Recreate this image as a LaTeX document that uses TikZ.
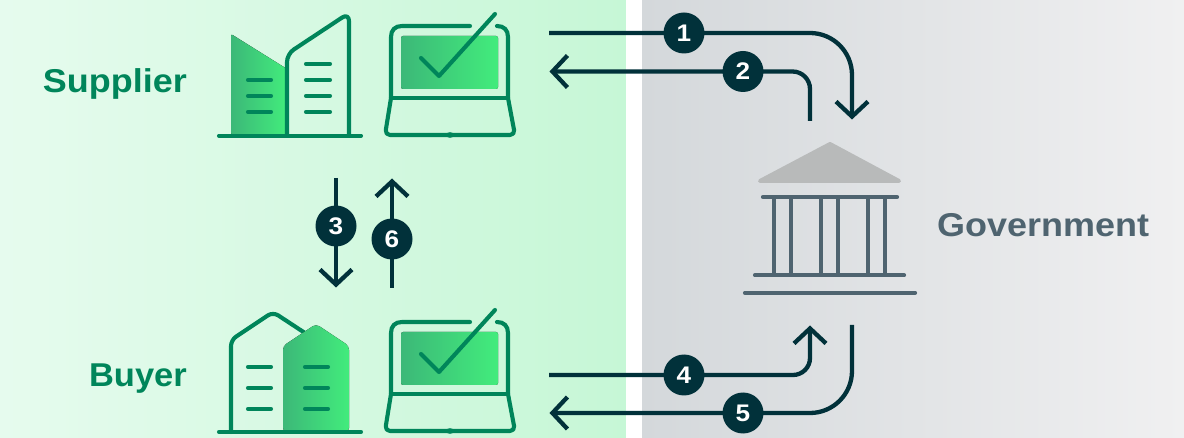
\documentclass[tikz,border=0pt]{standalone}
\usepackage{fontspec}
\setmainfont{Liberation Sans}
\newfontfamily\wideface[FakeStretch=1.09]{Liberation Sans}
\newfontfamily\midface[FakeStretch=1.045]{Liberation Sans}
\usetikzlibrary{arrows.meta}
\definecolor{grn}{HTML}{00855A}
\definecolor{dk}{HTML}{01313A}
\definecolor{slate}{HTML}{4F6470}
\definecolor{fillL}{HTML}{3CB878}
\definecolor{fillR}{HTML}{42EC7C}
\definecolor{E6}{HTML}{E6FBEE}
\definecolor{C6}{HTML}{C6F7D6}
\definecolor{G1}{HTML}{D4D8DB}
\definecolor{G2}{HTML}{F0F0F1}
\definecolor{RF}{HTML}{B8BABA}
\tikzset{
  x=1pt,y=-1pt,
  icon/.style={draw=grn,line width=4.1pt,line cap=round,line join=round},
  gov/.style={draw=slate,line width=4.2pt,line cap=round},
  conn/.style={draw=dk,line width=4.3pt},
  tipped/.style={conn,-{Straight Barb[length=15pt,width=32pt,line width=4.3pt]}},
  badge/.style={circle,fill=dk,text=white,minimum size=41pt,inner sep=0pt,font=\fontsize{24}{24}\selectfont\bfseries\wideface},
  actor/.style={font=\fontsize{33}{33}\selectfont\bfseries\wideface,anchor=base east,inner sep=0pt},
  gradfill/.style={left color=fillL,right color=fillR,draw=none},
}
\newcommand{\laptop}{%
  \fill[gradfill,rounded corners=2pt] (401,36) rectangle (498,89);
  \draw[icon] (470,26) -- (402,26) .. controls (395,26) and (391,30) .. (391,37) -- (391,98);
  \draw[icon] (497,26) .. controls (504,26) and (508,30) .. (508,37) -- (508,98);
  \draw[icon] (391,98) -- (508,98);
  \draw[icon,rounded corners=5pt] (391,98) -- (385,135) -- (515,135) -- (508,98);
  \draw[icon] (421,58) -- (439,76) -- (495,14);
  \fill[grn] (450,135) ellipse (4pt and 2.8pt);
}
\begin{document}
\begin{tikzpicture}
\useasboundingbox (0,0) rectangle (1184,438);
% backgrounds
\fill[left color=E6,right color=C6] (0,0) rectangle (626,438);
\fill[white] (626,0) rectangle (642,438);
\fill[left color=G1,right color=G2] (642,0) rectangle (1184,438);
% supplier buildings
\fill[gradfill,rounded corners=2pt] (231,135) -- (231,34) -- (287,69) -- (287,135) -- cycle;
\draw[icon,rounded corners=8pt] (287,135) -- (287,54) -- (349,13) -- (349,135);
\foreach \y in {64,80,96,112} \draw[icon] (306,\y) -- (330,\y);
\foreach \y in {80,96,112} \draw[icon] (248,\y) -- (271,\y);
\draw[icon] (219,135.7) -- (361,135.7);
\laptop
% buyer buildings
\draw[icon,rounded corners=6pt] (231,432) -- (231,340) -- (273,312) -- (305,333);
\fill[gradfill,rounded corners=4pt] (283,432) -- (283,346) -- (316,324) -- (349,346) -- (349,432) -- cycle;
\foreach \y in {367,388,409} {\draw[icon] (248,\y) -- (271,\y); \draw[icon] (305,\y) -- (328,\y);}
\draw[icon] (219,432) -- (361,432);
\begin{scope}[yshift=-296pt]\laptop\end{scope}
% government
\fill[fill=RF,draw=RF,line width=4pt,line join=round] (830,144) -- (760,181) -- (899,181) -- cycle;
\draw[gov] (763,197) -- (897,197);
\foreach \x in {773.7,791.3,820.7,838.3,867.7,885.3} \draw[gov,line cap=butt] (\x,197) -- (\x,275);
\draw[gov] (755,275.3) -- (904,275.3);
\draw[gov] (745,292.7) -- (915,292.7);
% labels
\node[actor,text=grn] (supplier) at (187,93) {Supplier};
\node[actor,text=grn,font=\fontsize{33}{33}\selectfont\bfseries\midface] (buyer) at (187,387) {Buyer};
\node[actor,text=slate,anchor=base west] (government) at (937,237) {Government};
% connector ends
\coordinate (a1) at (549,33); \coordinate (b1) at (852,119.5);
\coordinate (a2) at (810,121); \coordinate (b2) at (549.5,71.5);
\coordinate (a3) at (336,178); \coordinate (b3) at (336,287.5);
\coordinate (a6) at (392,288); \coordinate (b6) at (392,178.5);
\coordinate (a4) at (549,375); \coordinate (b4) at (810,325.5);
\coordinate (a5) at (852,325); \coordinate (b5) at (549.5,413);
\draw[tipped] (a1) -- (810,33) arc[start angle=-90,end angle=0,radius=42] -- (b1);
\draw[tipped] (a2) -- (810,89) arc[start angle=0,end angle=-90,radius=17.5] -- (b2);
\draw[tipped] (a3) -- (b3);
\draw[tipped] (a6) -- (b6);
\draw[tipped] (a4) -- (793,375) arc[start angle=90,end angle=0,radius=17] -- (b4);
\draw[tipped] (a5) -- (852,371) arc[start angle=0,end angle=90,radius=42] -- (b5);
\node[badge] (n1) at (684,33) {1};
\node[badge] (n2) at (743,71.5) {2};
\node[badge] (n3) at (336,226) {3};
\node[badge] (n6) at (392,239) {6};
\node[badge] (n4) at (684,375) {4};
\node[badge] (n5) at (743,413) {5};
\end{tikzpicture}
\end{document}
